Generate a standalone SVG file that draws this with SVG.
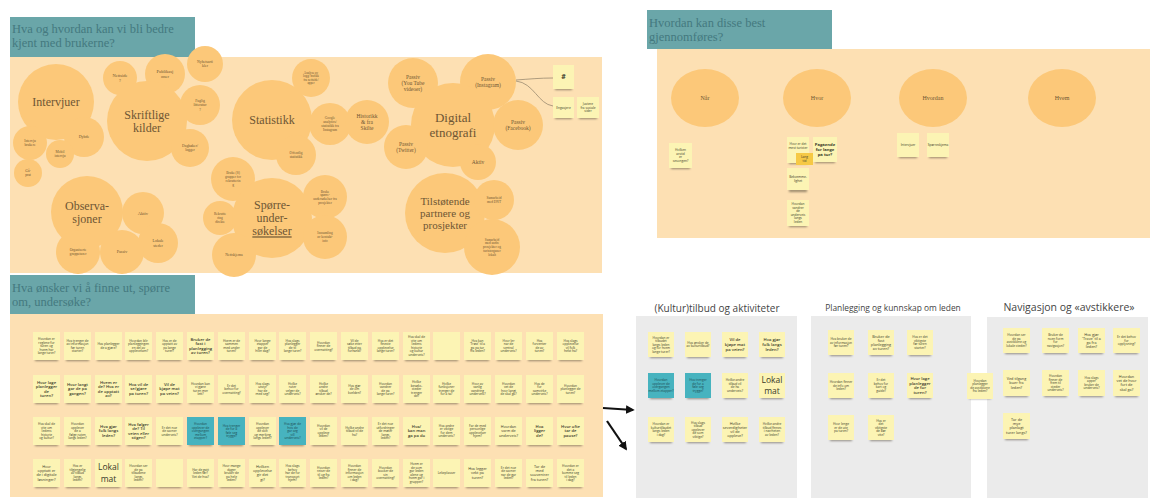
<svg xmlns="http://www.w3.org/2000/svg" width="1150" height="498" viewBox="0 0 1150 498">
<defs>
<style>
.hd{fill:#6aa6a9}
.hdt{font-family:"Liberation Serif",serif;font-size:12.5px;fill:#44797f}
.pn{fill:#fde0b3}
.bb{fill:#fcc879}
.bt{font-family:"Liberation Serif",serif;fill:#6e5634;text-anchor:middle}
.gp{fill:#ebebeb}
.st{fill:#fcf4b4}
.tl{fill:#47b3bf}
.yo{fill:#f6c945}
.sh{fill:#4a4030;opacity:.55;filter:url(#bl)}
.t{font-family:"Open Sans",sans-serif;fill:#3a3a2a;text-anchor:middle}
.tt{fill:#1d4a50}
.xs{font-size:3.2px}
.s{font-size:3.8px}
.m{font-size:4.2px;font-weight:600}
.l{font-size:8.5px}
.ttl{font-family:"Open Sans",sans-serif;fill:#444;text-anchor:middle}
.cn{fill:none;stroke:#9a8a70;stroke-width:.8}
.ar{fill:none;stroke:#111;stroke-width:2.2;marker-end:url(#ah)}
</style>
<filter id="bl" x="-20%" y="-100%" width="140%" height="300%"><feGaussianBlur stdDeviation="0.8"/></filter>
<marker id="ah" viewBox="0 0 10 10" refX="8" refY="5" markerWidth="4" markerHeight="4" orient="auto" markerUnits="strokeWidth"><path d="M0 0 L10 5 L0 10 z" fill="#111"/></marker>
</defs>
<rect width="1150" height="498" fill="#ffffff"/>

<!-- ===== Section 1: top-left ===== -->
<g id="panel-brukere">
<rect class="pn" x="10" y="57" width="592" height="216"/>
<rect class="hd" x="10" y="17" width="185" height="40"/>
<text class="hdt" x="12" y="33">Hva og hvordan kan vi bli bedre</text>
<text class="hdt" x="12" y="47">kjent med brukerne?</text>
</g>

<g id="b-intervjuer"><circle class="bb" cx="56" cy="102" r="38"/><text class="bt" x="56" y="102" font-size="12"><tspan x="56" dy=".35em">Intervjuer</tspan></text></g>
<g id="b-nettside"><circle class="bb" cx="120" cy="78" r="17"/><text class="bt" x="120" y="78" font-size="4.5"><tspan x="120" dy="-.2em">Nettside</tspan><tspan x="120" dy="1.1em">?</tspan></text></g>
<g id="b-publikasjoner"><circle class="bb" cx="165" cy="74" r="20"/><text class="bt" x="165" y="74" font-size="4.5"><tspan x="165" dy="-.2em">Publikasj</tspan><tspan x="165" dy="1.1em">oner</tspan></text></g>
<g id="b-nyhetsartikler"><circle class="bb" cx="205" cy="64" r="18"/><text class="bt" x="205" y="64" font-size="3.8"><tspan x="205" dy="-.2em">Nyhetsarti</tspan><tspan x="205" dy="1.1em">kler</tspan></text></g>
<g id="b-faglig"><circle class="bb" cx="200" cy="105" r="20"/><text class="bt" x="200" y="105" font-size="3.8"><tspan x="200" dy="-.75em">Faglig</tspan><tspan x="200" dy="1.1em">litteratur</tspan><tspan x="200" dy="1.1em">?</tspan></text></g>
<g id="b-skriftlige"><circle class="bb" cx="147" cy="121" r="40"/><text class="bt" x="147" y="121" font-size="12"><tspan x="147" dy="-.2em">Skriftlige</tspan><tspan x="147" dy="1.1em">kilder</tspan></text></g>
<g id="b-dagboker"><circle class="bb" cx="190" cy="148" r="19"/><text class="bt" x="190" y="148" font-size="3.8"><tspan x="190" dy="-.2em">Dagbøker/</tspan><tspan x="190" dy="1.1em">logger</tspan></text></g>
<g id="b-dybde"><circle class="bb" cx="84" cy="137" r="20"/><text class="bt" x="84" y="137" font-size="4"><tspan x="84" dy=".35em">Dybde</tspan></text></g>
<g id="b-brukerintervju"><circle class="bb" cx="30" cy="143" r="17"/><text class="bt" x="30" y="143" font-size="3.6"><tspan x="30" dy="-.2em">Intervju</tspan><tspan x="30" dy="1.1em">brukere</tspan></text></g>
<g id="b-mobil"><circle class="bb" cx="60" cy="154" r="14"/><text class="bt" x="60" y="154" font-size="3.6"><tspan x="60" dy="-.2em">Mobil</tspan><tspan x="60" dy="1.1em">intervju</tspan></text></g>
<g id="b-gaprat"><circle class="bb" cx="28" cy="173" r="14"/><text class="bt" x="28" y="173" font-size="3.6"><tspan x="28" dy="-.2em">Gå-</tspan><tspan x="28" dy="1.1em">prat</tspan></text></g>
<g id="b-observasjoner"><circle class="bb" cx="87" cy="212" r="36"/><text class="bt" x="87" y="212" font-size="12"><tspan x="87" dy="-.2em">Observa-</tspan><tspan x="87" dy="1.1em">sjoner</tspan></text></g>
<g id="b-aktiv-obs"><circle class="bb" cx="143" cy="213" r="21"/><text class="bt" x="143" y="213" font-size="4.5"><tspan x="143" dy=".35em">Aktiv</tspan></text></g>
<g id="b-lokale"><circle class="bb" cx="158" cy="243" r="20"/><text class="bt" x="158" y="243" font-size="4"><tspan x="158" dy="-.2em">Lokale</tspan><tspan x="158" dy="1.1em">steder</tspan></text></g>
<g id="b-organiserte"><circle class="bb" cx="78" cy="252" r="22"/><text class="bt" x="78" y="252" font-size="3.6"><tspan x="78" dy="-.2em">Organiserte</tspan><tspan x="78" dy="1.1em">gruppeturer</tspan></text></g>
<g id="b-passiv-obs"><circle class="bb" cx="122" cy="252" r="22"/><text class="bt" x="122" y="252" font-size="4.2"><tspan x="122" dy=".35em">Passiv</tspan></text></g>

<g id="b-statistikk"><circle class="bb" cx="272" cy="120" r="40"/><text class="bt" x="272" y="120" font-size="12"><tspan x="272" dy=".35em">Statistikk</tspan></text></g>
<g id="b-analyse"><circle class="bb" cx="311" cy="78" r="19"/><text class="bt" x="311" y="78" font-size="3.2"><tspan x="311" dy="-1.3em">Analyse av</tspan><tspan x="311" dy="1.1em">logg/ trafikk</tspan><tspan x="311" dy="1.1em">fra nettside/</tspan><tspan x="311" dy="1.1em">apper</tspan></text></g>
<g id="b-google"><circle class="bb" cx="330" cy="124" r="21"/><text class="bt" x="330" y="124" font-size="3.5"><tspan x="330" dy="-1.3em">Google</tspan><tspan x="330" dy="1.1em">analytics/</tspan><tspan x="330" dy="1.1em">statistikk fra</tspan><tspan x="330" dy="1.1em">Instagram</tspan></text></g>
<g id="b-historikk"><circle class="bb" cx="367" cy="122" r="22"/><text class="bt" x="367" y="122" font-size="5.5"><tspan x="367" dy="-.75em">Historikk</tspan><tspan x="367" dy="1.1em">&amp; fra</tspan><tspan x="367" dy="1.1em">Skilte</tspan></text></g>
<g id="b-youtube"><circle class="bb" cx="413" cy="83" r="25"/><text class="bt" x="413" y="83" font-size="5.5"><tspan x="413" dy="-.75em">Passiv</tspan><tspan x="413" dy="1.1em">(You Tube</tspan><tspan x="413" dy="1.1em">videoer)</tspan></text></g>
<g id="b-instagram"><circle class="bb" cx="488" cy="82" r="28"/><text class="bt" x="488" y="82" font-size="5.5"><tspan x="488" dy="-.2em">Passiv</tspan><tspan x="488" dy="1.1em">(Instagram)</tspan></text></g>
<g id="b-digital"><circle class="bb" cx="453" cy="125" r="42"/><text class="bt" x="453" y="125" font-size="13"><tspan x="453" dy="-.2em">Digital</tspan><tspan x="453" dy="1.1em">etnografi</tspan></text></g>
<g id="b-twitter"><circle class="bb" cx="406" cy="147" r="22"/><text class="bt" x="406" y="147" font-size="5.5"><tspan x="406" dy="-.2em">Passiv</tspan><tspan x="406" dy="1.1em">(Twitter)</tspan></text></g>
<g id="b-facebook"><circle class="bb" cx="518" cy="125" r="25"/><text class="bt" x="518" y="125" font-size="5.5"><tspan x="518" dy="-.2em">Passiv</tspan><tspan x="518" dy="1.1em">(Facebook)</tspan></text></g>
<g id="b-aktiv-dig"><circle class="bb" cx="478" cy="162" r="18"/><text class="bt" x="478" y="162" font-size="5.5"><tspan x="478" dy=".35em">Aktiv</tspan></text></g>
<g id="b-offentlig"><circle class="bb" cx="296" cy="155" r="20"/><text class="bt" x="296" y="155" font-size="3.5"><tspan x="296" dy="-.2em">Offentlig</tspan><tspan x="296" dy="1.1em">statistikk</tspan></text></g>
<g id="b-grupper"><circle class="bb" cx="233" cy="179" r="22"/><text class="bt" x="233" y="179" font-size="3.5"><tspan x="233" dy="-1.3em">Bruke (S)</tspan><tspan x="233" dy="1.1em">grupper for</tspan><tspan x="233" dy="1.1em">rekrutterin</tspan><tspan x="233" dy="1.1em">g</tspan></text></g>
<g id="b-rekruttering"><circle class="bb" cx="220" cy="218" r="17"/><text class="bt" x="220" y="218" font-size="3.5"><tspan x="220" dy="-.75em">Rekrutte</tspan><tspan x="220" dy="1.1em">ring</tspan><tspan x="220" dy="1.1em">direkte</tspan></text></g>
<g id="b-sporre"><circle class="bb" cx="272" cy="218" r="40"/><text class="bt" x="272" y="218" font-size="12"><tspan x="272" dy="-.75em">Spørre-</tspan><tspan x="272" dy="1.1em">under-</tspan><tspan x="272" dy="1.1em" text-decoration="underline">søkelser</tspan></text></g>
<g id="b-nettskjema"><circle class="bb" cx="234" cy="255" r="22"/><text class="bt" x="234" y="255" font-size="3.8"><tspan x="234" dy=".35em">Nettskjema</tspan></text></g>
<g id="b-bruke-sporre"><circle class="bb" cx="325" cy="197" r="22"/><text class="bt" x="325" y="197" font-size="3.4"><tspan x="325" dy="-1.3em">Bruke</tspan><tspan x="325" dy="1.1em">spørre-</tspan><tspan x="325" dy="1.1em">undersøkelser fra</tspan><tspan x="325" dy="1.1em">prosjekter</tspan></text></g>
<g id="b-kontakt"><circle class="bb" cx="325" cy="237" r="22"/><text class="bt" x="325" y="237" font-size="3.4"><tspan x="325" dy="-.75em">Innsamling</tspan><tspan x="325" dy="1.1em">av kontakt-</tspan><tspan x="325" dy="1.1em">info</tspan></text></g>
<g id="b-tilstotende"><circle class="bb" cx="445" cy="213" r="40"/><text class="bt" x="445" y="213" font-size="11"><tspan x="445" dy="-.75em">Tilstøtende</tspan><tspan x="445" dy="1.1em">partnere og</tspan><tspan x="445" dy="1.1em">prosjekter</tspan></text></g>
<g id="b-samarbeid"><circle class="bb" cx="494" cy="200" r="20"/><text class="bt" x="494" y="200" font-size="3.5"><tspan x="494" dy="-.2em">Samarbeid</tspan><tspan x="494" dy="1.1em">med DNT</tspan></text></g>
<g id="b-andre"><circle class="bb" cx="492" cy="247" r="28"/><text class="bt" x="492" y="247" font-size="3.4"><tspan x="492" dy="-1.85em">Samarbeid</tspan><tspan x="492" dy="1.1em">med andre</tspan><tspan x="492" dy="1.1em">prosjekter og</tspan><tspan x="492" dy="1.1em">turistorganer</tspan><tspan x="492" dy="1.1em">lokalt</tspan></text></g>

<g id="s-hash" transform="translate(553,65)"><rect class="sh" x="2" y="22" width="17" height="3"/><rect class="st" width="21" height="24"/><text class="t" x="10.5" y="12" font-size="7" font-weight="700"><tspan x="10.5" dy=".35em">#</tspan></text></g>
<g id="s-engasjere" transform="translate(553,97)"><rect class="sh" x="2" y="19" width="17" height="3"/><rect class="st" width="21" height="21"/><text class="t xs" x="10.5" y="10.5"><tspan x="10.5" dy=".35em">Engasjere</tspan></text></g>
<g id="s-justere" transform="translate(577,97)"><rect class="sh" x="2" y="19" width="18" height="3"/><rect class="st" width="22" height="21"/><text class="t xs" x="11" y="10.5"><tspan x="11" dy="-.75em">Justere</tspan><tspan x="11" dy="1.1em">fra sosiale</tspan><tspan x="11" dy="1.1em">sider</tspan></text></g>

<!-- ===== Section 2: top-right ===== -->
<g id="panel-gjennomfores">
<rect class="pn" x="657" y="49" width="493" height="189"/>
<rect class="hd" x="647" y="10" width="185" height="39"/>
<text class="hdt" x="649" y="27">Hvordan kan disse best</text>
<text class="hdt" x="649" y="41">gjennomføres?</text>
</g>
<g id="c-nar"><ellipse class="bb" cx="705" cy="98" rx="34" ry="29"/><text class="bt" x="705" y="98" font-size="6"><tspan x="705" dy=".35em">Når</tspan></text></g>
<g id="c-hvor"><ellipse class="bb" cx="817" cy="98" rx="34" ry="29"/><text class="bt" x="817" y="98" font-size="6"><tspan x="817" dy=".35em">Hvor</tspan></text></g>
<g id="c-hvordan"><ellipse class="bb" cx="933" cy="98" rx="34" ry="29"/><text class="bt" x="933" y="98" font-size="6"><tspan x="933" dy=".35em">Hvordan</tspan></text></g>
<g id="c-hvem"><ellipse class="bb" cx="1062" cy="98" rx="34" ry="29"/><text class="bt" x="1062" y="98" font-size="6"><tspan x="1062" dy=".35em">Hvem</tspan></text></g>

<g id="s-nar-1" transform="translate(669,143)"><rect class="sh" x="2" y="23" width="19" height="3"/><rect class="st" width="23" height="25"/><text class="t xs" x="11.5" y="12.5"><tspan x="11.5" dy="-1.3em">Hvilken</tspan><tspan x="11.5" dy="1.1em">årstid</tspan><tspan x="11.5" dy="1.1em">er</tspan><tspan x="11.5" dy="1.1em">sesongen?</tspan></text></g>
<g id="s-hvor-1" transform="translate(787,137)"><rect class="sh" x="2" y="24" width="18" height="3"/><rect class="st" width="22" height="26"/><text class="t xs" x="11" y="9"><tspan x="11" dy="-.2em">Hvor er det</tspan><tspan x="11" dy="1.1em">mest turister</tspan></text></g>
<g id="s-hvor-2" transform="translate(796,153)"><rect class="yo" width="17" height="12"/><text class="t xs" x="8.5" y="6" fill="#fff"><tspan x="8.5" dy="-.2em">Lang</tspan><tspan x="8.5" dy="1.1em">tid</tspan></text></g>
<g id="s-hvor-3" transform="translate(813,137)"><rect class="sh" x="2" y="23" width="20" height="3"/><rect class="st" width="24" height="25"/><text class="t" x="12" y="12.5" font-size="4.2" font-weight="700"><tspan x="12" dy="-.75em">Pågående</tspan><tspan x="12" dy="1.1em">for lange</tspan><tspan x="12" dy="1.1em">på tur?</tspan></text></g>
<g id="s-hvor-4" transform="translate(787,168)"><rect class="sh" x="2" y="21" width="18" height="3"/><rect class="st" width="22" height="22"/><text class="t xs" x="11" y="11"><tspan x="11" dy="-.2em">Bekvemme-</tspan><tspan x="11" dy="1.1em">lighet</tspan></text></g>
<g id="s-hvor-5" transform="translate(787,200)"><rect class="sh" x="2" y="24" width="18" height="3"/><rect class="st" width="22" height="26"/><text class="t xs" x="11" y="13" fill="#2f8a7a"><tspan x="11" dy="-2.4em">Hvordan</tspan><tspan x="11" dy="1.1em">vandrer</tspan><tspan x="11" dy="1.1em">de</tspan><tspan x="11" dy="1.1em">underveis</tspan><tspan x="11" dy="1.1em">langs</tspan><tspan x="11" dy="1.1em">leden</tspan></text></g>
<g id="s-hvordan-1" transform="translate(897,133)"><rect class="sh" x="2" y="22" width="18" height="3"/><rect class="st" width="22" height="24"/><text class="t xs" x="11" y="12"><tspan x="11" dy=".35em">Intervjuer</tspan></text></g>
<g id="s-hvordan-2" transform="translate(927,133)"><rect class="sh" x="2" y="22" width="18" height="3"/><rect class="st" width="22" height="24"/><text class="t xs" x="11" y="12"><tspan x="11" dy=".35em">Spørreskjema</tspan></text></g>

<!-- ===== Section 3: bottom-left ===== -->
<g id="panel-sporsmal">
<rect class="pn" x="10" y="314" width="593" height="183"/>
<rect class="hd" x="10" y="275" width="185" height="39"/>
<text class="hdt" x="12" y="292">Hva ønsker vi å finne ut, spørre</text>
<text class="hdt" x="12" y="306">om, undersøke?</text>
</g>

<!-- row 0 -->
<g id="q00" transform="translate(33,332)"><rect class="sh" x="2" y="26" width="23" height="3"/><rect class="st" width="27" height="28"/><text class="t xs" x="13.5" y="14"><tspan x="13.5" dy="-1.85em">Hvordan er</tspan><tspan x="13.5" dy="1.1em">reglene for</tspan><tspan x="13.5" dy="1.1em">turen og</tspan><tspan x="13.5" dy="1.1em">hvem har</tspan><tspan x="13.5" dy="1.1em">lange turer?</tspan></text></g>
<g id="q01" transform="translate(64,332)"><rect class="sh" x="2" y="26" width="23" height="3"/><rect class="st" width="27" height="28"/><text class="t xs" x="13.5" y="14"><tspan x="13.5" dy="-1.3em">Hva trenger de</tspan><tspan x="13.5" dy="1.1em">av informasjon</tspan><tspan x="13.5" dy="1.1em">før turen</tspan><tspan x="13.5" dy="1.1em">starter?</tspan></text></g>
<g id="q02" transform="translate(95,332)"><rect class="sh" x="2" y="26" width="23" height="3"/><rect class="st" width="27" height="28"/><text class="t xs" x="13.5" y="14"><tspan x="13.5" dy="-.2em">Hva planlegger</tspan><tspan x="13.5" dy="1.1em">de å gjøre?</tspan></text></g>
<g id="q03" transform="translate(125,332)"><rect class="sh" x="2" y="26" width="23" height="3"/><rect class="st" width="27" height="28"/><text class="t xs" x="13.5" y="14"><tspan x="13.5" dy="-1.3em">Hvordan blir</tspan><tspan x="13.5" dy="1.1em">planleggingen</tspan><tspan x="13.5" dy="1.1em">en del av</tspan><tspan x="13.5" dy="1.1em">opplevelsen?</tspan></text></g>
<g id="q04" transform="translate(156,332)"><rect class="sh" x="2" y="26" width="23" height="3"/><rect class="st" width="27" height="28"/><text class="t xs" x="13.5" y="14"><tspan x="13.5" dy="-1.3em">Hva er de</tspan><tspan x="13.5" dy="1.1em">opptatt av</tspan><tspan x="13.5" dy="1.1em">på lange</tspan><tspan x="13.5" dy="1.1em">turer?</tspan></text></g>
<g id="q05" transform="translate(187,332)"><rect class="sh" x="2" y="26" width="23" height="3"/><rect class="st" width="27" height="28"/><text class="t m" x="13.5" y="14"><tspan x="13.5" dy="-1.3em">Bruker de</tspan><tspan x="13.5" dy="1.1em">fast i</tspan><tspan x="13.5" dy="1.1em">planlegging</tspan><tspan x="13.5" dy="1.1em">av turen?</tspan></text></g>
<g id="q06" transform="translate(218,332)"><rect class="sh" x="2" y="26" width="23" height="3"/><rect class="st" width="27" height="28"/><text class="t xs" x="13.5" y="14"><tspan x="13.5" dy="-1.3em">Hvem er de</tspan><tspan x="13.5" dy="1.1em">sammen</tspan><tspan x="13.5" dy="1.1em">med under</tspan><tspan x="13.5" dy="1.1em">turen?</tspan></text></g>
<g id="q07" transform="translate(249,332)"><rect class="sh" x="2" y="26" width="23" height="3"/><rect class="st" width="27" height="28"/><text class="t xs" x="13.5" y="14"><tspan x="13.5" dy="-1.3em">Hvor lange</tspan><tspan x="13.5" dy="1.1em">etapper</tspan><tspan x="13.5" dy="1.1em">går de</tspan><tspan x="13.5" dy="1.1em">hver dag?</tspan></text></g>
<g id="q08" transform="translate(279,332)"><rect class="sh" x="2" y="26" width="23" height="3"/><rect class="st" width="27" height="28"/><text class="t xs" x="13.5" y="14"><tspan x="13.5" dy="-1.3em">Hva slags</tspan><tspan x="13.5" dy="1.1em">planlegger</tspan><tspan x="13.5" dy="1.1em">de til</tspan><tspan x="13.5" dy="1.1em">lange turer?</tspan></text></g>
<g id="q09" transform="translate(310,332)"><rect class="sh" x="2" y="26" width="23" height="3"/><rect class="st" width="27" height="28"/><text class="t xs" x="13.5" y="14"><tspan x="13.5" dy="-.75em">Hvordan</tspan><tspan x="13.5" dy="1.1em">finner de</tspan><tspan x="13.5" dy="1.1em">overnatting?</tspan></text></g>
<g id="q010" transform="translate(341,332)"><rect class="sh" x="2" y="26" width="23" height="3"/><rect class="st" width="27" height="28"/><text class="t xs" x="13.5" y="14"><tspan x="13.5" dy="-1.3em">Vil de</tspan><tspan x="13.5" dy="1.1em">søke etter</tspan><tspan x="13.5" dy="1.1em">tilbud på</tspan><tspan x="13.5" dy="1.1em">forhånd?</tspan></text></g>
<g id="q011" transform="translate(372,332)"><rect class="sh" x="2" y="26" width="23" height="3"/><rect class="st" width="27" height="28"/><text class="t xs" x="13.5" y="14"><tspan x="13.5" dy="-1.3em">Hva er det</tspan><tspan x="13.5" dy="1.1em">fineste</tspan><tspan x="13.5" dy="1.1em">opplevelse</tspan><tspan x="13.5" dy="1.1em">lange turer?</tspan></text></g>
<g id="q012" transform="translate(403,332)"><rect class="sh" x="2" y="26" width="23" height="3"/><rect class="st" width="27" height="28"/><text class="t xs" x="13.5" y="14"><tspan x="13.5" dy="-2.4em">Hva skal de</tspan><tspan x="13.5" dy="1.1em">vite om</tspan><tspan x="13.5" dy="1.1em">ledens</tspan><tspan x="13.5" dy="1.1em">historie</tspan><tspan x="13.5" dy="1.1em">og kultur</tspan><tspan x="13.5" dy="1.1em">underveis?</tspan></text></g>
<g id="q013" transform="translate(433,332)"><rect class="sh" x="2" y="26" width="23" height="3"/><rect class="st" width="27" height="28"/></g>
<g id="q014" transform="translate(464,332)"><rect class="sh" x="2" y="26" width="23" height="3"/><rect class="st" width="27" height="28"/><text class="t xs" x="13.5" y="14"><tspan x="13.5" dy="-1.3em">Hva kan</tspan><tspan x="13.5" dy="1.1em">'Trøst' til å</tspan><tspan x="13.5" dy="1.1em">gå på tur</tspan><tspan x="13.5" dy="1.1em">fra leden?</tspan></text></g>
<g id="q015" transform="translate(495,332)"><rect class="sh" x="2" y="26" width="23" height="3"/><rect class="st" width="27" height="28"/><text class="t xs" x="13.5" y="14"><tspan x="13.5" dy="-1.3em">Hvor ler</tspan><tspan x="13.5" dy="1.1em">når de</tspan><tspan x="13.5" dy="1.1em">sentral</tspan><tspan x="13.5" dy="1.1em">underveis?</tspan></text></g>
<g id="q016" transform="translate(526,332)"><rect class="sh" x="2" y="26" width="23" height="3"/><rect class="st" width="27" height="28"/><text class="t xs" x="13.5" y="14"><tspan x="13.5" dy="-1.3em">Hva</tspan><tspan x="13.5" dy="1.1em">forventer</tspan><tspan x="13.5" dy="1.1em">de av</tspan><tspan x="13.5" dy="1.1em">turen?</tspan></text></g>
<g id="q017" transform="translate(557,332)"><rect class="sh" x="2" y="26" width="23" height="3"/><rect class="st" width="27" height="28"/><text class="t xs" x="13.5" y="14"><tspan x="13.5" dy="-1.3em">Hva slags</tspan><tspan x="13.5" dy="1.1em">opplevelse</tspan><tspan x="13.5" dy="1.1em">vil folk</tspan><tspan x="13.5" dy="1.1em">helst ha?</tspan></text></g>

<!-- row 1 -->
<g id="q10" transform="translate(33,375)"><rect class="sh" x="2" y="26" width="23" height="3"/><rect class="st" width="27" height="28"/><text class="t m" x="13.5" y="14"><tspan x="13.5" dy="-1.3em">Hvor lage</tspan><tspan x="13.5" dy="1.1em">planlegger</tspan><tspan x="13.5" dy="1.1em">de</tspan><tspan x="13.5" dy="1.1em">turen?</tspan></text></g>
<g id="q11" transform="translate(64,375)"><rect class="sh" x="2" y="26" width="23" height="3"/><rect class="st" width="27" height="28"/><text class="t m" x="13.5" y="14"><tspan x="13.5" dy="-.75em">Hvor langt</tspan><tspan x="13.5" dy="1.1em">går de på</tspan><tspan x="13.5" dy="1.1em">gangen?</tspan></text></g>
<g id="q12" transform="translate(95,375)"><rect class="sh" x="2" y="26" width="23" height="3"/><rect class="st" width="27" height="28"/><text class="t m" x="13.5" y="14"><tspan x="13.5" dy="-1.3em">Hvem er</tspan><tspan x="13.5" dy="1.1em">de? Hva er</tspan><tspan x="13.5" dy="1.1em">de opptatt</tspan><tspan x="13.5" dy="1.1em">av?</tspan></text></g>
<g id="q13" transform="translate(125,375)"><rect class="sh" x="2" y="26" width="23" height="3"/><rect class="st" width="27" height="28"/><text class="t m" x="13.5" y="14"><tspan x="13.5" dy="-.75em">Hva vil de</tspan><tspan x="13.5" dy="1.1em">se/gjøre</tspan><tspan x="13.5" dy="1.1em">på turen?</tspan></text></g>
<g id="q14" transform="translate(156,375)"><rect class="sh" x="2" y="26" width="23" height="3"/><rect class="st" width="27" height="28"/><text class="t m" x="13.5" y="14"><tspan x="13.5" dy="-.75em">Vil de</tspan><tspan x="13.5" dy="1.1em">kjøpe mat</tspan><tspan x="13.5" dy="1.1em">på veien?</tspan></text></g>
<g id="q15" transform="translate(187,375)"><rect class="sh" x="2" y="26" width="23" height="3"/><rect class="st" width="27" height="28"/><text class="t xs" x="13.5" y="14"><tspan x="13.5" dy="-1.3em">Hvordan kan</tspan><tspan x="13.5" dy="1.1em">vi gjøre</tspan><tspan x="13.5" dy="1.1em">turen mer</tspan><tspan x="13.5" dy="1.1em">lett?</tspan></text></g>
<g id="q16" transform="translate(218,375)"><rect class="sh" x="2" y="26" width="23" height="3"/><rect class="st" width="27" height="28"/><text class="t xs" x="13.5" y="14"><tspan x="13.5" dy="-.75em">Er det</tspan><tspan x="13.5" dy="1.1em">behov for</tspan><tspan x="13.5" dy="1.1em">overnatting?</tspan></text></g>
<g id="q17" transform="translate(249,375)"><rect class="sh" x="2" y="26" width="23" height="3"/><rect class="st" width="27" height="28"/><text class="t xs" x="13.5" y="14"><tspan x="13.5" dy="-1.3em">Hva slags</tspan><tspan x="13.5" dy="1.1em">utstyr</tspan><tspan x="13.5" dy="1.1em">har de</tspan><tspan x="13.5" dy="1.1em">med seg?</tspan></text></g>
<g id="q18" transform="translate(279,375)"><rect class="sh" x="2" y="26" width="23" height="3"/><rect class="st" width="27" height="28"/><text class="t xs" x="13.5" y="14"><tspan x="13.5" dy="-1.3em">Hvilke</tspan><tspan x="13.5" dy="1.1em">ruter</tspan><tspan x="13.5" dy="1.1em">velger de</tspan><tspan x="13.5" dy="1.1em">underveis?</tspan></text></g>
<g id="q19" transform="translate(310,375)"><rect class="sh" x="2" y="26" width="23" height="3"/><rect class="st" width="27" height="28"/><text class="t xs" x="13.5" y="14"><tspan x="13.5" dy="-1.3em">Hvilke</tspan><tspan x="13.5" dy="1.1em">andre</tspan><tspan x="13.5" dy="1.1em">tilbud</tspan><tspan x="13.5" dy="1.1em">ønsker de?</tspan></text></g>
<g id="q110" transform="translate(341,375)"><rect class="sh" x="2" y="26" width="23" height="3"/><rect class="st" width="27" height="28"/><text class="t xs" x="13.5" y="14"><tspan x="13.5" dy="-.75em">Hva gjør</tspan><tspan x="13.5" dy="1.1em">de om</tspan><tspan x="13.5" dy="1.1em">kvelden?</tspan></text></g>
<g id="q111" transform="translate(372,375)"><rect class="sh" x="2" y="26" width="23" height="3"/><rect class="st" width="27" height="28"/><text class="t xs" x="13.5" y="14"><tspan x="13.5" dy="-1.3em">Hvordan</tspan><tspan x="13.5" dy="1.1em">vandrer</tspan><tspan x="13.5" dy="1.1em">de på</tspan><tspan x="13.5" dy="1.1em">lange turer?</tspan></text></g>
<g id="q112" transform="translate(403,375)"><rect class="sh" x="2" y="26" width="23" height="3"/><rect class="st" width="27" height="28"/><text class="t xs" x="13.5" y="14"><tspan x="13.5" dy="-1.85em">Hvilke</tspan><tspan x="13.5" dy="1.1em">besøks-</tspan><tspan x="13.5" dy="1.1em">steder</tspan><tspan x="13.5" dy="1.1em">trenger</tspan><tspan x="13.5" dy="1.1em">de?</tspan></text></g>
<g id="q113" transform="translate(433,375)"><rect class="sh" x="2" y="26" width="23" height="3"/><rect class="st" width="27" height="28"/><text class="t xs" x="13.5" y="14"><tspan x="13.5" dy="-1.3em">Hvilke</tspan><tspan x="13.5" dy="1.1em">funksjoner</tspan><tspan x="13.5" dy="1.1em">trenger de</tspan><tspan x="13.5" dy="1.1em">for å ta?</tspan></text></g>
<g id="q114" transform="translate(464,375)"><rect class="sh" x="2" y="26" width="23" height="3"/><rect class="st" width="27" height="28"/><text class="t xs" x="13.5" y="14"><tspan x="13.5" dy="-1.3em">Hvor av</tspan><tspan x="13.5" dy="1.1em">vanlig</tspan><tspan x="13.5" dy="1.1em">vandring</tspan><tspan x="13.5" dy="1.1em">underveis?</tspan></text></g>
<g id="q115" transform="translate(495,375)"><rect class="sh" x="2" y="26" width="23" height="3"/><rect class="st" width="27" height="28"/><text class="t xs" x="13.5" y="14"><tspan x="13.5" dy="-1.3em">Hvordan</tspan><tspan x="13.5" dy="1.1em">vet de</tspan><tspan x="13.5" dy="1.1em">hvor langt</tspan><tspan x="13.5" dy="1.1em">de skal gå?</tspan></text></g>
<g id="q116" transform="translate(526,375)"><rect class="sh" x="2" y="26" width="23" height="3"/><rect class="st" width="27" height="28"/><text class="t xs" x="13.5" y="14"><tspan x="13.5" dy="-1.3em">Hva de</tspan><tspan x="13.5" dy="1.1em">for</tspan><tspan x="13.5" dy="1.1em">samvirke</tspan><tspan x="13.5" dy="1.1em">underveis?</tspan></text></g>
<g id="q117" transform="translate(557,375)"><rect class="sh" x="2" y="26" width="23" height="3"/><rect class="st" width="27" height="28"/><text class="t xs" x="13.5" y="14"><tspan x="13.5" dy="-.75em">Hvordan</tspan><tspan x="13.5" dy="1.1em">planlegger de</tspan><tspan x="13.5" dy="1.1em">turen?</tspan></text></g>

<!-- row 2 -->
<g id="q20" transform="translate(33,417)"><rect class="sh" x="2" y="26" width="23" height="3"/><rect class="st" width="27" height="28"/><text class="t xs" x="13.5" y="14"><tspan x="13.5" dy="-1.85em">Hva skal de</tspan><tspan x="13.5" dy="1.1em">vite om</tspan><tspan x="13.5" dy="1.1em">ledens</tspan><tspan x="13.5" dy="1.1em">historie</tspan><tspan x="13.5" dy="1.1em">og kultur?</tspan></text></g>
<g id="q21" transform="translate(64,417)"><rect class="sh" x="2" y="26" width="23" height="3"/><rect class="st" width="27" height="28"/><text class="t xs" x="13.5" y="14"><tspan x="13.5" dy="-1.85em">Hvordan</tspan><tspan x="13.5" dy="1.1em">opplever</tspan><tspan x="13.5" dy="1.1em">de å</tspan><tspan x="13.5" dy="1.1em">følge ruten</tspan><tspan x="13.5" dy="1.1em">langs leden?</tspan></text></g>
<g id="q22" transform="translate(95,417)"><rect class="sh" x="2" y="26" width="23" height="3"/><rect class="st" width="27" height="28"/><text class="t m" x="13.5" y="14"><tspan x="13.5" dy="-.75em">Hva gjør</tspan><tspan x="13.5" dy="1.1em">folk langs</tspan><tspan x="13.5" dy="1.1em">leden?</tspan></text></g>
<g id="q23" transform="translate(125,417)"><rect class="sh" x="2" y="26" width="23" height="3"/><rect class="st" width="27" height="28"/><text class="t m" x="13.5" y="14"><tspan x="13.5" dy="-1.3em">Hva følger</tspan><tspan x="13.5" dy="1.1em">de? Til</tspan><tspan x="13.5" dy="1.1em">veien eller</tspan><tspan x="13.5" dy="1.1em">stigen?</tspan></text></g>
<g id="q24" transform="translate(156,417)"><rect class="sh" x="2" y="26" width="23" height="3"/><rect class="st" width="27" height="28"/><text class="t xs" x="13.5" y="14"><tspan x="13.5" dy="-.75em">Er det noe</tspan><tspan x="13.5" dy="1.1em">de savner</tspan><tspan x="13.5" dy="1.1em">underveis?</tspan></text></g>
<g id="q25" transform="translate(187,417)"><rect class="sh" x="2" y="26" width="23" height="3"/><rect class="tl" width="27" height="28"/><text class="t tt xs" x="13.5" y="14"><tspan x="13.5" dy="-1.85em">Hvordan</tspan><tspan x="13.5" dy="1.1em">opplever de</tspan><tspan x="13.5" dy="1.1em">overgangen</tspan><tspan x="13.5" dy="1.1em">mellom</tspan><tspan x="13.5" dy="1.1em">etapper?</tspan></text></g>
<g id="q26" transform="translate(218,417)"><rect class="sh" x="2" y="26" width="23" height="3"/><rect class="tl" width="27" height="28"/><text class="t tt xs" x="13.5" y="14"><tspan x="13.5" dy="-1.3em">Hva trenger</tspan><tspan x="13.5" dy="1.1em">de for å</tspan><tspan x="13.5" dy="1.1em">føle seg</tspan><tspan x="13.5" dy="1.1em">trygge?</tspan></text></g>
<g id="q27" transform="translate(249,417)"><rect class="sh" x="2" y="26" width="23" height="3"/><rect class="st" width="27" height="28"/><text class="t xs" x="13.5" y="14"><tspan x="13.5" dy="-1.85em">Hvordan</tspan><tspan x="13.5" dy="1.1em">opplever</tspan><tspan x="13.5" dy="1.1em">de skilt</tspan><tspan x="13.5" dy="1.1em">og merking</tspan><tspan x="13.5" dy="1.1em">langs leden?</tspan></text></g>
<g id="q28" transform="translate(279,417)"><rect class="sh" x="2" y="26" width="23" height="3"/><rect class="tl" width="27" height="28"/><text class="t tt xs" x="13.5" y="14"><tspan x="13.5" dy="-1.85em">Hva gjør de</tspan><tspan x="13.5" dy="1.1em">hvis de</tspan><tspan x="13.5" dy="1.1em">går seg</tspan><tspan x="13.5" dy="1.1em">vill</tspan><tspan x="13.5" dy="1.1em">underveis?</tspan></text></g>
<g id="q29" transform="translate(310,417)"><rect class="sh" x="2" y="26" width="23" height="3"/><rect class="st" width="27" height="28"/><text class="t xs" x="13.5" y="14"><tspan x="13.5" dy="-1.3em">Hvordan</tspan><tspan x="13.5" dy="1.1em">vil de</tspan><tspan x="13.5" dy="1.1em">oppleve</tspan><tspan x="13.5" dy="1.1em">leden?</tspan></text></g>
<g id="q210" transform="translate(341,417)"><rect class="sh" x="2" y="26" width="23" height="3"/><rect class="st" width="27" height="28"/><text class="t xs" x="13.5" y="14"><tspan x="13.5" dy="-.75em">Hvilke andre</tspan><tspan x="13.5" dy="1.1em">tilbud vil de</tspan><tspan x="13.5" dy="1.1em">ha?</tspan></text></g>
<g id="q211" transform="translate(372,417)"><rect class="sh" x="2" y="26" width="23" height="3"/><rect class="st" width="27" height="28"/><text class="t xs" x="13.5" y="14"><tspan x="13.5" dy="-1.85em">Er det noe</tspan><tspan x="13.5" dy="1.1em">utfordringer</tspan><tspan x="13.5" dy="1.1em">de møter</tspan><tspan x="13.5" dy="1.1em">langs</tspan><tspan x="13.5" dy="1.1em">leden?</tspan></text></g>
<g id="q212" transform="translate(403,417)"><rect class="sh" x="2" y="26" width="23" height="3"/><rect class="st" width="27" height="28"/><text class="t m" x="13.5" y="14"><tspan x="13.5" dy="-.75em">Hva/</tspan><tspan x="13.5" dy="1.1em">kan man</tspan><tspan x="13.5" dy="1.1em">gå på do</tspan></text></g>
<g id="q213" transform="translate(433,417)"><rect class="sh" x="2" y="26" width="23" height="3"/><rect class="st" width="27" height="28"/><text class="t xs" x="13.5" y="14"><tspan x="13.5" dy="-1.3em">Hva andre</tspan><tspan x="13.5" dy="1.1em">er viktige</tspan><tspan x="13.5" dy="1.1em">for dem</tspan><tspan x="13.5" dy="1.1em">underveis?</tspan></text></g>
<g id="q214" transform="translate(464,417)"><rect class="sh" x="2" y="26" width="23" height="3"/><rect class="st" width="27" height="28"/><text class="t xs" x="13.5" y="14"><tspan x="13.5" dy="-1.3em">Får de med</tspan><tspan x="13.5" dy="1.1em">personlige</tspan><tspan x="13.5" dy="1.1em">opplevelser</tspan><tspan x="13.5" dy="1.1em">hjem?</tspan></text></g>
<g id="q215" transform="translate(495,417)"><rect class="sh" x="2" y="26" width="23" height="3"/><rect class="st" width="27" height="28"/><text class="t s" x="13.5" y="14"><tspan x="13.5" dy="-.75em">Hvordan</tspan><tspan x="13.5" dy="1.1em">varm de</tspan><tspan x="13.5" dy="1.1em">underveis?</tspan></text></g>
<g id="q216" transform="translate(526,417)"><rect class="sh" x="2" y="26" width="23" height="3"/><rect class="st" width="27" height="28"/><text class="t m" x="13.5" y="14"><tspan x="13.5" dy="-.75em">Hva</tspan><tspan x="13.5" dy="1.1em">ligger</tspan><tspan x="13.5" dy="1.1em">de?</tspan></text></g>
<g id="q217" transform="translate(557,417)"><rect class="sh" x="2" y="26" width="23" height="3"/><rect class="st" width="27" height="28"/><text class="t m" x="13.5" y="14"><tspan x="13.5" dy="-.75em">Hvor ofte</tspan><tspan x="13.5" dy="1.1em">tar de</tspan><tspan x="13.5" dy="1.1em">pause?</tspan></text></g>

<!-- row 3 -->
<g id="q30" transform="translate(33,459)"><rect class="sh" x="2" y="26" width="23" height="3"/><rect class="st" width="27" height="28"/><text class="t s" x="13.5" y="14"><tspan x="13.5" dy="-1.3em">Hvor</tspan><tspan x="13.5" dy="1.1em">opptatt er</tspan><tspan x="13.5" dy="1.1em">de i digitale</tspan><tspan x="13.5" dy="1.1em">løsninger?</tspan></text></g>
<g id="q31" transform="translate(64,459)"><rect class="sh" x="2" y="26" width="23" height="3"/><rect class="st" width="27" height="28"/><text class="t xs" x="13.5" y="14"><tspan x="13.5" dy="-1.85em">Hva er</tspan><tspan x="13.5" dy="1.1em">tilgjengelig</tspan><tspan x="13.5" dy="1.1em">av tilbud</tspan><tspan x="13.5" dy="1.1em">langs</tspan><tspan x="13.5" dy="1.1em">leden?</tspan></text></g>
<g id="q32" transform="translate(95,459)"><rect class="sh" x="2" y="26" width="23" height="3"/><rect class="st" width="27" height="28"/><text class="t l" x="13.5" y="14"><tspan x="13.5" dy="-.3em">Lokal</tspan><tspan x="13.5" dy="1.32em">mat</tspan></text></g>
<g id="q33" transform="translate(125,459)"><rect class="sh" x="2" y="26" width="23" height="3"/><rect class="st" width="27" height="28"/><text class="t xs" x="13.5" y="14"><tspan x="13.5" dy="-1.85em">Hvordan ser</tspan><tspan x="13.5" dy="1.1em">de på</tspan><tspan x="13.5" dy="1.1em">tilbudene</tspan><tspan x="13.5" dy="1.1em">langs</tspan><tspan x="13.5" dy="1.1em">leden?</tspan></text></g>
<g id="q34" transform="translate(156,459)"><rect class="sh" x="2" y="26" width="23" height="3"/><rect class="st" width="27" height="28"/></g>
<g id="q35" transform="translate(187,459)"><rect class="sh" x="2" y="26" width="23" height="3"/><rect class="st" width="27" height="28"/><text class="t xs" x="13.5" y="14"><tspan x="13.5" dy="-.75em">Har de gått</tspan><tspan x="13.5" dy="1.1em">leden før?</tspan><tspan x="13.5" dy="1.1em">Vet de hva?</tspan></text></g>
<g id="q36" transform="translate(218,459)"><rect class="sh" x="2" y="26" width="23" height="3"/><rect class="st" width="27" height="28"/><text class="t xs" x="13.5" y="14"><tspan x="13.5" dy="-1.85em">Hvor mange</tspan><tspan x="13.5" dy="1.1em">dager</tspan><tspan x="13.5" dy="1.1em">bruker de</tspan><tspan x="13.5" dy="1.1em">på hele</tspan><tspan x="13.5" dy="1.1em">leden?</tspan></text></g>
<g id="q37" transform="translate(249,459)"><rect class="sh" x="2" y="26" width="23" height="3"/><rect class="st" width="27" height="28"/><text class="t s" x="13.5" y="14"><tspan x="13.5" dy="-1.3em">Hvilken</tspan><tspan x="13.5" dy="1.1em">opplevelse</tspan><tspan x="13.5" dy="1.1em">gir det</tspan><tspan x="13.5" dy="1.1em">gi?</tspan></text></g>
<g id="q38" transform="translate(279,459)"><rect class="sh" x="2" y="26" width="23" height="3"/><rect class="st" width="27" height="28"/><text class="t xs" x="13.5" y="14"><tspan x="13.5" dy="-1.85em">Hva slags</tspan><tspan x="13.5" dy="1.1em">behov</tspan><tspan x="13.5" dy="1.1em">har de for</tspan><tspan x="13.5" dy="1.1em">transport</tspan><tspan x="13.5" dy="1.1em">hjem?</tspan></text></g>
<g id="q39" transform="translate(310,459)"><rect class="sh" x="2" y="26" width="23" height="3"/><rect class="st" width="27" height="28"/><text class="t xs" x="13.5" y="14"><tspan x="13.5" dy="-1.3em">Hvordan</tspan><tspan x="13.5" dy="1.1em">reiser de</tspan><tspan x="13.5" dy="1.1em">til og fra</tspan><tspan x="13.5" dy="1.1em">leden?</tspan></text></g>
<g id="q310" transform="translate(341,459)"><rect class="sh" x="2" y="26" width="23" height="3"/><rect class="st" width="27" height="28"/><text class="t xs" x="13.5" y="14"><tspan x="13.5" dy="-1.85em">Hvordan</tspan><tspan x="13.5" dy="1.1em">finner de</tspan><tspan x="13.5" dy="1.1em">informasjon</tspan><tspan x="13.5" dy="1.1em">om leden</tspan><tspan x="13.5" dy="1.1em">i dag?</tspan></text></g>
<g id="q311" transform="translate(372,459)"><rect class="sh" x="2" y="26" width="23" height="3"/><rect class="st" width="27" height="28"/><text class="t xs" x="13.5" y="14"><tspan x="13.5" dy="-1.3em">Hvordan</tspan><tspan x="13.5" dy="1.1em">booker de</tspan><tspan x="13.5" dy="1.1em">sin</tspan><tspan x="13.5" dy="1.1em">overnatting?</tspan></text></g>
<g id="q312" transform="translate(403,459)"><rect class="sh" x="2" y="26" width="23" height="3"/><rect class="st" width="27" height="28"/><text class="t xs" x="13.5" y="14"><tspan x="13.5" dy="-2.4em">Hvem er</tspan><tspan x="13.5" dy="1.1em">de som</tspan><tspan x="13.5" dy="1.1em">går leden</tspan><tspan x="13.5" dy="1.1em">alene og</tspan><tspan x="13.5" dy="1.1em">hvem går i</tspan><tspan x="13.5" dy="1.1em">grupper?</tspan></text></g>
<g id="q313" transform="translate(433,459)"><rect class="sh" x="2" y="26" width="23" height="3"/><rect class="st" width="27" height="28"/><text class="t xs" x="13.5" y="14"><tspan x="13.5" dy=".35em">Lekeplasser</tspan></text></g>
<g id="q314" transform="translate(464,459)"><rect class="sh" x="2" y="26" width="23" height="3"/><rect class="st" width="27" height="28"/><text class="t s" x="13.5" y="14"><tspan x="13.5" dy="-.75em">Hva legger</tspan><tspan x="13.5" dy="1.1em">vekt på</tspan><tspan x="13.5" dy="1.1em">turen?</tspan></text></g>
<g id="q315" transform="translate(495,459)"><rect class="sh" x="2" y="26" width="23" height="3"/><rect class="st" width="27" height="28"/><text class="t xs" x="13.5" y="14"><tspan x="13.5" dy="-1.3em">Er det noe</tspan><tspan x="13.5" dy="1.1em">de savner</tspan><tspan x="13.5" dy="1.1em">når de går</tspan><tspan x="13.5" dy="1.1em">leden?</tspan></text></g>
<g id="q316" transform="translate(526,459)"><rect class="sh" x="2" y="26" width="23" height="3"/><rect class="st" width="27" height="28"/><text class="t s" x="13.5" y="14"><tspan x="13.5" dy="-1.3em">Tar de</tspan><tspan x="13.5" dy="1.1em">med</tspan><tspan x="13.5" dy="1.1em">souvenirer</tspan><tspan x="13.5" dy="1.1em">fra turen?</tspan></text></g>
<g id="q317" transform="translate(557,459)"><rect class="sh" x="2" y="26" width="23" height="3"/><rect class="st" width="27" height="28"/><text class="t xs" x="13.5" y="14"><tspan x="13.5" dy="-1.85em">Hvordan er</tspan><tspan x="13.5" dy="1.1em">det å</tspan><tspan x="13.5" dy="1.1em">komme seg</tspan><tspan x="13.5" dy="1.1em">til leden</tspan><tspan x="13.5" dy="1.1em">i dag?</tspan></text></g>

<!-- ===== Section 4: bottom-right categories ===== -->
<g id="panel-kultur">
<rect class="gp" x="636" y="316" width="161" height="182"/>
<text class="ttl" x="717" y="312" font-size="10">(Kultur)tilbud og aktiviteter</text>
</g>
<g id="panel-planlegging">
<rect class="gp" x="811" y="316" width="160" height="182"/>
<text class="ttl" x="893" y="311" font-size="8.4" fill="#666">Planlegging og kunnskap om leden</text>
</g>
<g id="panel-navigasjon">
<rect class="gp" x="987" y="317" width="161" height="181"/>
<text class="ttl" x="1069" y="311" font-size="10.5">Navigasjon og «avstikkere»</text>
</g>

<g id="k00" transform="translate(648,332)"><rect class="sh" x="2" y="23" width="22" height="3"/><rect class="st" width="26" height="25"/><text class="t xs" x="13" y="12.5"><tspan x="13" dy="-1.85em">Hvordan er</tspan><tspan x="13" dy="1.1em">tilbudet</tspan><tspan x="13" dy="1.1em">langs leden</tspan><tspan x="13" dy="1.1em">og for hvem</tspan><tspan x="13" dy="1.1em">lange turer?</tspan></text></g>
<g id="k01" transform="translate(685,332)"><rect class="sh" x="2" y="23" width="22" height="3"/><rect class="st" width="26" height="25"/><text class="t xs" x="13" y="12.5"><tspan x="13" dy="-.2em">Hva ønsker de</tspan><tspan x="13" dy="1.1em">av kulturtilbud?</tspan></text></g>
<g id="k02" transform="translate(722,332)"><rect class="sh" x="2" y="23" width="22" height="3"/><rect class="st" width="26" height="25"/><text class="t m" x="13" y="12.5"><tspan x="13" dy="-.75em">Vil de</tspan><tspan x="13" dy="1.1em">kjøpe mat</tspan><tspan x="13" dy="1.1em">på veien?</tspan></text></g>
<g id="k03" transform="translate(759,332)"><rect class="sh" x="2" y="23" width="22" height="3"/><rect class="st" width="26" height="25"/><text class="t m" x="13" y="12.5"><tspan x="13" dy="-.75em">Hva gjør</tspan><tspan x="13" dy="1.1em">folk langs</tspan><tspan x="13" dy="1.1em">leden?</tspan></text></g>
<g id="k10" transform="translate(648,373)"><rect class="sh" x="2" y="23" width="22" height="3"/><rect class="tl" width="26" height="25"/><text class="t tt xs" x="13" y="12.5"><tspan x="13" dy="-1.3em">Hvordan</tspan><tspan x="13" dy="1.1em">opplever de</tspan><tspan x="13" dy="1.1em">overgangen</tspan><tspan x="13" dy="1.1em">mellom etapper?</tspan></text></g>
<g id="k11" transform="translate(685,373)"><rect class="sh" x="2" y="23" width="22" height="3"/><rect class="tl" width="26" height="25"/><text class="t tt xs" x="13" y="12.5"><tspan x="13" dy="-1.3em">Hva trenger</tspan><tspan x="13" dy="1.1em">de for å</tspan><tspan x="13" dy="1.1em">føle seg</tspan><tspan x="13" dy="1.1em">trygge?</tspan></text></g>
<g id="k12" transform="translate(722,373)"><rect class="sh" x="2" y="23" width="22" height="3"/><rect class="st" width="26" height="25"/><text class="t xs" x="13" y="12.5"><tspan x="13" dy="-1.3em">Hvilke andre</tspan><tspan x="13" dy="1.1em">tilbud vil</tspan><tspan x="13" dy="1.1em">de ha</tspan><tspan x="13" dy="1.1em">underveis?</tspan></text></g>
<g id="k13" transform="translate(759,373)"><rect class="sh" x="2" y="23" width="22" height="3"/><rect class="st" width="26" height="25"/><text class="t l" x="13" y="12.5"><tspan x="13" dy="-.3em">Lokal</tspan><tspan x="13" dy="1.32em">mat</tspan></text></g>
<g id="k20" transform="translate(648,417)"><rect class="sh" x="2" y="23" width="22" height="3"/><rect class="st" width="26" height="25"/><text class="t xs" x="13" y="12.5"><tspan x="13" dy="-1.3em">Hvordan er</tspan><tspan x="13" dy="1.1em">kulturtilbudet</tspan><tspan x="13" dy="1.1em">langs leden</tspan><tspan x="13" dy="1.1em">i dag?</tspan></text></g>
<g id="k21" transform="translate(685,417)"><rect class="sh" x="2" y="23" width="22" height="3"/><rect class="st" width="26" height="25"/><text class="t xs" x="13" y="12.5"><tspan x="13" dy="-1.85em">Hva slags</tspan><tspan x="13" dy="1.1em">tilbud</tspan><tspan x="13" dy="1.1em">opplever</tspan><tspan x="13" dy="1.1em">de som</tspan><tspan x="13" dy="1.1em">viktige?</tspan></text></g>
<g id="k22" transform="translate(722,417)"><rect class="sh" x="2" y="23" width="22" height="3"/><rect class="st" width="26" height="25"/><text class="t s" x="13" y="12.5"><tspan x="13" dy="-1.3em">Hvilke</tspan><tspan x="13" dy="1.1em">severdigheter</tspan><tspan x="13" dy="1.1em">vil de</tspan><tspan x="13" dy="1.1em">oppleve?</tspan></text></g>
<g id="k23" transform="translate(759,417)"><rect class="sh" x="2" y="23" width="22" height="3"/><rect class="st" width="26" height="25"/><text class="t xs" x="13" y="12.5"><tspan x="13" dy="-1.3em">Hvilke andre</tspan><tspan x="13" dy="1.1em">tilbud finnes</tspan><tspan x="13" dy="1.1em">i nærheten</tspan><tspan x="13" dy="1.1em">av leden?</tspan></text></g>

<g id="p00" transform="translate(828,330)"><rect class="sh" x="2" y="23" width="22" height="3"/><rect class="st" width="26" height="25"/><text class="t xs" x="13" y="12.5"><tspan x="13" dy="-.75em">Hva bruker de</tspan><tspan x="13" dy="1.1em">av informasjon</tspan><tspan x="13" dy="1.1em">før turen?</tspan></text></g>
<g id="p01" transform="translate(868,330)"><rect class="sh" x="2" y="23" width="22" height="3"/><rect class="st" width="26" height="25"/><text class="t s" x="13" y="12.5"><tspan x="13" dy="-1.3em">Bruker de</tspan><tspan x="13" dy="1.1em">fast</tspan><tspan x="13" dy="1.1em">planlegging</tspan><tspan x="13" dy="1.1em">av turen?</tspan></text></g>
<g id="p02" transform="translate(907,330)"><rect class="sh" x="2" y="23" width="22" height="3"/><rect class="st" width="26" height="25"/><text class="t xs" x="13" y="12.5"><tspan x="13" dy="-1.3em">Hva er det</tspan><tspan x="13" dy="1.1em">viktigste</tspan><tspan x="13" dy="1.1em">før turen</tspan><tspan x="13" dy="1.1em">starter?</tspan></text></g>
<g id="p10" transform="translate(828,373)"><rect class="sh" x="2" y="23" width="22" height="3"/><rect class="st" width="26" height="25"/><text class="t xs" x="13" y="12.5"><tspan x="13" dy="-.75em">Hvordan finner</tspan><tspan x="13" dy="1.1em">de info om</tspan><tspan x="13" dy="1.1em">leden?</tspan></text></g>
<g id="p11" transform="translate(868,373)"><rect class="sh" x="2" y="23" width="22" height="3"/><rect class="st" width="26" height="25"/><text class="t xs" x="13" y="12.5"><tspan x="13" dy="-1.3em">Er det</tspan><tspan x="13" dy="1.1em">behov for</tspan><tspan x="13" dy="1.1em">kart og</tspan><tspan x="13" dy="1.1em">guide?</tspan></text></g>
<g id="p12" transform="translate(907,373)"><rect class="sh" x="2" y="23" width="22" height="3"/><rect class="st" width="26" height="25"/><text class="t m" x="13" y="12.5"><tspan x="13" dy="-1.3em">Hvor lage</tspan><tspan x="13" dy="1.1em">planlegger</tspan><tspan x="13" dy="1.1em">de for</tspan><tspan x="13" dy="1.1em">turen?</tspan></text></g>
<g id="p20" transform="translate(828,415)"><rect class="sh" x="2" y="23" width="22" height="3"/><rect class="st" width="26" height="25"/><text class="t xs" x="13" y="12.5"><tspan x="13" dy="-.75em">Hvor lenge</tspan><tspan x="13" dy="1.1em">er de ute</tspan><tspan x="13" dy="1.1em">på turen?</tspan></text></g>
<g id="p21" transform="translate(868,415)"><rect class="sh" x="2" y="23" width="22" height="3"/><rect class="st" width="26" height="25"/><text class="t xs" x="13" y="12.5"><tspan x="13" dy="-1.85em">Hva er</tspan><tspan x="13" dy="1.1em">det</tspan><tspan x="13" dy="1.1em">viktigste</tspan><tspan x="13" dy="1.1em">de bør</tspan><tspan x="13" dy="1.1em">vite?</tspan></text></g>
<g id="p-mellom" transform="translate(967,373)"><rect class="sh" x="2" y="23" width="22" height="3"/><rect class="st" width="26" height="26"/><text class="t xs" x="13" y="13"><tspan x="13" dy="-1.3em">Hvordan</tspan><tspan x="13" dy="1.1em">planlegger</tspan><tspan x="13" dy="1.1em">de avstikkere</tspan><tspan x="13" dy="1.1em">fra leden?</tspan></text></g>

<g id="n00" transform="translate(1003,328)"><rect class="sh" x="2" y="23" width="23" height="3"/><rect class="st" width="27" height="25"/><text class="t xs" x="13.5" y="12.5"><tspan x="13.5" dy="-1.3em">Hvordan ser</tspan><tspan x="13.5" dy="1.1em">de på</tspan><tspan x="13.5" dy="1.1em">avstikkere og</tspan><tspan x="13.5" dy="1.1em">lokale steder?</tspan></text></g>
<g id="n01" transform="translate(1042,328)"><rect class="sh" x="2" y="23" width="23" height="3"/><rect class="st" width="27" height="25"/><text class="t xs" x="13.5" y="12.5"><tspan x="13.5" dy="-1.3em">Bruker de</tspan><tspan x="13.5" dy="1.1em">noen form</tspan><tspan x="13.5" dy="1.1em">for</tspan><tspan x="13.5" dy="1.1em">navigasjon?</tspan></text></g>
<g id="n02" transform="translate(1078,328)"><rect class="sh" x="2" y="23" width="23" height="3"/><rect class="st" width="27" height="25"/><text class="t s" x="13.5" y="12.5"><tspan x="13.5" dy="-1.3em">Hva gjør</tspan><tspan x="13.5" dy="1.1em">'Trave' til å</tspan><tspan x="13.5" dy="1.1em">gå fra</tspan><tspan x="13.5" dy="1.1em">leden?</tspan></text></g>
<g id="n03" transform="translate(1113,328)"><rect class="sh" x="2" y="23" width="23" height="3"/><rect class="st" width="27" height="25"/><text class="t xs" x="13.5" y="12.5"><tspan x="13.5" dy="-.75em">Er det behov</tspan><tspan x="13.5" dy="1.1em">for</tspan><tspan x="13.5" dy="1.1em">opplysning?</tspan></text></g>
<g id="n10" transform="translate(1003,370)"><rect class="sh" x="2" y="24" width="23" height="3"/><rect class="st" width="27" height="26"/><text class="t s" x="13.5" y="13"><tspan x="13.5" dy="-.75em">Ved tilgang</tspan><tspan x="13.5" dy="1.1em">buer fra</tspan><tspan x="13.5" dy="1.1em">leden?</tspan></text></g>
<g id="n11" transform="translate(1042,370)"><rect class="sh" x="2" y="24" width="23" height="3"/><rect class="st" width="27" height="26"/><text class="t xs" x="13.5" y="13"><tspan x="13.5" dy="-1.85em">Hvordan</tspan><tspan x="13.5" dy="1.1em">finner de</tspan><tspan x="13.5" dy="1.1em">frem til</tspan><tspan x="13.5" dy="1.1em">steder</tspan><tspan x="13.5" dy="1.1em">underveis?</tspan></text></g>
<g id="n12" transform="translate(1078,370)"><rect class="sh" x="2" y="24" width="23" height="3"/><rect class="st" width="27" height="26"/><text class="t xs" x="13.5" y="13"><tspan x="13.5" dy="-1.3em">Hva slags</tspan><tspan x="13.5" dy="1.1em">apper</tspan><tspan x="13.5" dy="1.1em">bruker de</tspan><tspan x="13.5" dy="1.1em">underveis?</tspan></text></g>
<g id="n13" transform="translate(1113,370)"><rect class="sh" x="2" y="24" width="23" height="3"/><rect class="st" width="27" height="26"/><text class="t s" x="13.5" y="13"><tspan x="13.5" dy="-1.3em">Hvordan</tspan><tspan x="13.5" dy="1.1em">vet de hvor</tspan><tspan x="13.5" dy="1.1em">fort de</tspan><tspan x="13.5" dy="1.1em">skal gå?</tspan></text></g>
<g id="n20" transform="translate(1003,413)"><rect class="sh" x="2" y="24" width="23" height="3"/><rect class="st" width="27" height="26"/><text class="t s" x="13.5" y="13"><tspan x="13.5" dy="-1.3em">Tar de</tspan><tspan x="13.5" dy="1.1em">mye</tspan><tspan x="13.5" dy="1.1em">planlagt</tspan><tspan x="13.5" dy="1.1em">turer langs?</tspan></text></g>

<!-- ===== Connectors ===== -->
<g id="connectors">
<path class="cn" d="M516 80 C530 79 540 78 553 78"/>
<path class="cn" d="M516 81 C534 83 538 104 553 106"/>
<path class="ar" d="M603 408 L633 410"/>
<path class="ar" d="M607 421 L626 449"/>
</g>
</svg>
